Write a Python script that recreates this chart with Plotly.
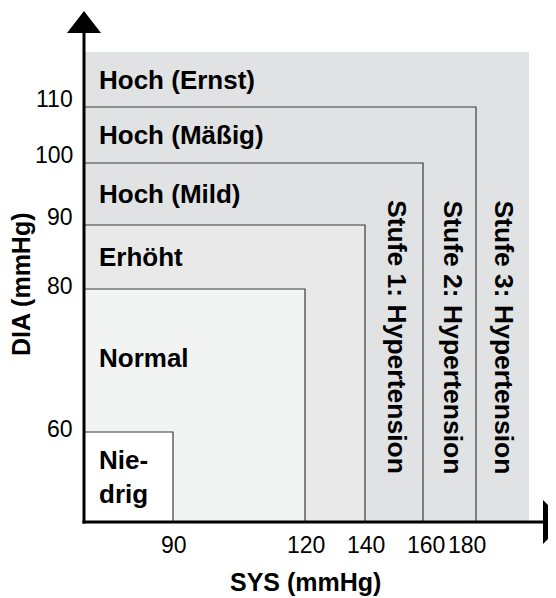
import numpy as np
import plotly.graph_objects as go

# ---- data ----
sys_thresholds = [90, 120, 140, 160, 180]          # upper SYS limit of each class
dia_thresholds = [60, 80, 90, 100, 110]            # upper DIA limit of each class
class_labels = ["Nie-<br>drig", "Normal", "Erhöht", "Hoch (Mild)", "Hoch (Mäßig)", "Hoch (Ernst)"]
stage_labels = ["Stufe 1: Hypertension", "Stufe 2: Hypertension", "Stufe 3: Hypertension"]
sys_ticks = [90, 120, 140, 160, 180]
dia_ticks = [60, 80, 90, 100, 110]
sys_extent = [70, 200]   # axis start / end of outer area
dia_extent = [45, 120]

# ---- schematic (piecewise) scale used by the reference ----
SYS_KNOTS = [70, 90, 120, 140, 160, 180, 200]
SYS_DISP = [0, 89, 221, 281, 339, 392, 445]
DIA_KNOTS = [45, 60, 80, 90, 100, 110, 120]
DIA_DISP = [0, 90, 233, 297, 359, 415, 470]


def sx(v):
    return float(np.interp(v, SYS_KNOTS, SYS_DISP))


def sy(v):
    return float(np.interp(v, DIA_KNOTS, DIA_DISP))


FONT = "Liberation Sans, Arial, Helvetica, sans-serif"
LBL = 26
TCK = 23
fills = ["#ffffff", "#f2f3f3", "#e9e9ea", "#e1e2e4", "#e1e2e4"]
outer_fill = "#e1e2e4"
edge = "#3a3a3a"

fig = go.Figure()
shapes = []
# outer area
shapes.append(dict(type="rect", xref="x", yref="y", x0=sx(sys_extent[0]), x1=sx(sys_extent[1]),
                   y0=sy(dia_extent[0]), y1=sy(dia_extent[1]), fillcolor=outer_fill,
                   line=dict(width=0), layer="below"))
# nested classes, largest first
for s, d, f in reversed(list(zip(sys_thresholds, dia_thresholds, fills))):
    shapes.append(dict(type="rect", xref="x", yref="y", x0=sx(sys_extent[0]), x1=sx(s),
                       y0=sy(dia_extent[0]), y1=sy(d), fillcolor=f,
                       line=dict(color=edge, width=1.2), layer="below"))

# axes lines with arrows
x0, y0 = sx(sys_extent[0]), sy(dia_extent[0])
shapes.append(dict(type="line", xref="x", yref="y", x0=x0, x1=x0, y0=y0 - 1.5, y1=y0 + 490,
                   line=dict(color="black", width=3)))
shapes.append(dict(type="line", xref="x", yref="y", x0=x0 - 1.5, x1=x0 + 460, y0=y0, y1=y0,
                   line=dict(color="black", width=3)))
shapes.append(dict(type="path", xref="x", yref="y",
                   path=f"M {x0-17},{y0+489} L {x0+17},{y0+489} L {x0},{y0+511} Z",
                   fillcolor="black", line=dict(width=0)))
shapes.append(dict(type="path", xref="x", yref="y",
                   path=f"M {x0+459},{y0+22} L {x0+459},{y0-22} L {x0+481},{y0} Z",
                   fillcolor="black", line=dict(width=0)))

ann = []
# class labels
bounds = [dia_extent[0]] + dia_thresholds + [dia_extent[1]]
for i, lab in enumerate(class_labels):
    ym = (sy(bounds[i]) + sy(bounds[i + 1])) / 2
    ann.append(dict(x=x0, y=ym, xref="x", yref="y", text=f"<b>{lab}</b>", showarrow=False,
                    xanchor="left", yanchor="middle", xshift=13, align="left",
                    yshift=(3 if i == 1 else 0),
                    font=dict(family=FONT, size=LBL, color="black")))
# stage labels (vertical)
sbounds = sys_thresholds[2:] + [sys_extent[1]]
for i, lab in enumerate(stage_labels):
    xm = (sx(sbounds[i]) + sx(sbounds[i + 1])) / 2
    ann.append(dict(x=xm, y=sy(90), xref="x", yref="y", text=f"<b>{lab}</b>", showarrow=False,
                    textangle=90, xanchor="center", yanchor="top", yshift=27, xshift=(3 if i < 2 else 1),
                    font=dict(family=FONT, size=26.5, color="black")))
# tick labels
for v in sys_ticks:
    ann.append(dict(x=sx(v), y=y0, xref="x", yref="y", text=str(v), showarrow=False,
                    xanchor="center", yanchor="top", yshift=-8, xshift=(-9 if v == 180 else (3 if v == 160 else 1)),
                    font=dict(family=FONT, size=TCK, color="black")))
for v in dia_ticks:
    ann.append(dict(x=x0, y=sy(v), xref="x", yref="y", text=str(v), showarrow=False,
                    xanchor="right", yanchor="middle", xshift=-9, yshift=(3 if v in (60, 80) else 8),
                    font=dict(family=FONT, size=TCK, color="black")))
# axis titles
ann.append(dict(x=sx(120), y=y0, xref="x", yref="y", text="<b>SYS (mmHg)</b>", showarrow=False,
                xanchor="center", yanchor="top", yshift=-44,
                font=dict(family=FONT, size=LBL - 1, color="black")))
ann.append(dict(x=x0, y=sy(85), xref="x", yref="y", text="<b>DIA (mmHg)</b>", showarrow=False,
                textangle=-90, xanchor="center", yanchor="middle", xshift=-63, yshift=-27,
                borderpad=0, font=dict(family=FONT, size=LBL - 1, color="black")))

fig.update_layout(
    width=556, height=598, margin=dict(l=0, r=0, t=0, b=0),
    paper_bgcolor="white", plot_bgcolor="white", showlegend=False,
    xaxis=dict(range=[-76, 480], visible=False, fixedrange=True),
    yaxis=dict(range=[-84, 514], visible=False, fixedrange=True),
    shapes=shapes, annotations=ann,
)
fig.write_html("out.html")
